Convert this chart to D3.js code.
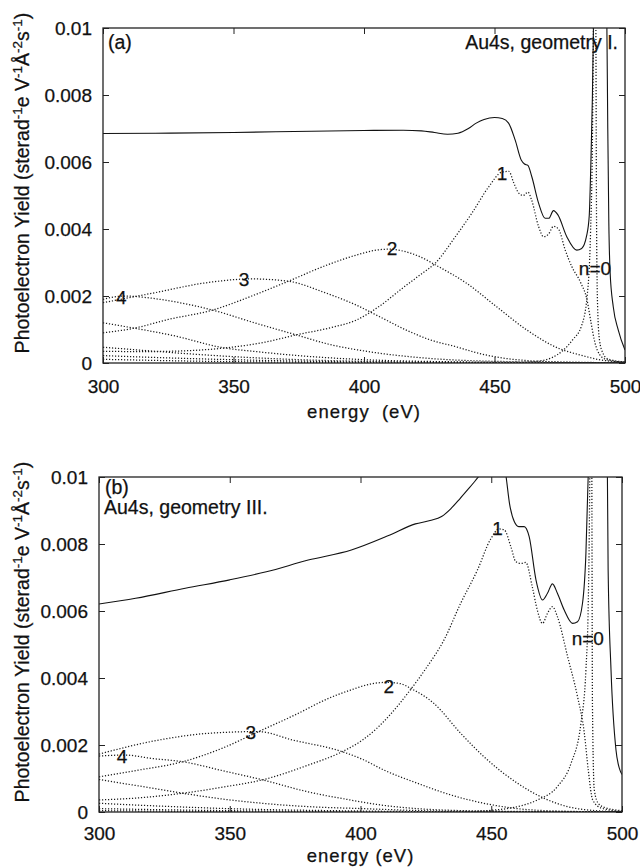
<!DOCTYPE html>
<html>
<head>
<meta charset="utf-8">
<script src="https://cdn.jsdelivr.net/npm/d3@7"></script>
<style>
body { margin: 0; background: #fff; }
svg { display: block; font-family: "Liberation Sans", Arial, Helvetica, sans-serif; }
svg text { stroke: #111; stroke-width: 0.25px; }
</style>
</head>
<body>
<div id="wrapper"></div>
<script>
const xTicks = [300, 350, 400, 450, 500];
const yTicks = [0, 0.002, 0.004, 0.006, 0.008, 0.01];

// ---- panel (a), geometry I : [energy eV, yield]
const totalA = [[300,0.00685],[320,0.00686],[350,0.00688],[380,0.00692],[400,0.00694],[415,0.00695],[422,0.00693],[427,0.00688],[432,0.00683],[436,0.00686],[440,0.00700],[443,0.00716],[446,0.00727],[450,0.00733],[453,0.00730],[455.4,0.00716],[457.9,0.00666],[460.3,0.00605],[461.5,0.00594],[462.8,0.00590],[464.3,0.00556],[466.9,0.00477],[469.4,0.00432],[470.8,0.00432],[472.6,0.00455],[474.3,0.00442],[477.7,0.00377],[481.5,0.00337],[483.4,0.00342],[485.3,0.00380],[486.3,0.00440],[486.9,0.00590],[487.5,0.00790],[488.0,0.01050],[489.5,0.01500],[491.5,0.01500],[493.0,0.01050],[493.4,0.00700],[493.8,0.00420],[494.3,0.00270],[495.5,0.00168],[497.4,0.00099],[500,0.00039]];
const n0A = [[440,0],[455,0.00001],[465,0.00004],[472,0.00016],[476,0.00036],[480,0.0007],[483.3,0.0011],[485.5,0.002],[486.8,0.0039],[487.5,0.0065],[488,0.011],[488.4,0.016],[488.8,0.011],[489.1,0.0042],[489.5,0.0017],[490.2,0.0007],[491.5,0.0003],[493.5,0.00012],[500,0.00003]];
const n1A = [[300,0.00035],[315,0.00034],[330,0.00036],[348,0.00046],[362,0.00062],[374,0.00084],[387,0.00105],[397,0.00128],[406,0.0017],[415,0.00225],[422,0.00266],[427.3,0.00298],[435,0.00377],[441.4,0.00448],[447.8,0.00526],[452.9,0.0057],[455.5,0.00572],[457.4,0.00537],[459.3,0.00507],[461,0.005],[462.8,0.0051],[464.2,0.00487],[466.9,0.00407],[468.8,0.00377],[470.7,0.00385],[472.6,0.00408],[474.5,0.004],[477.1,0.00337],[479.6,0.00288],[483,0.0024],[485.4,0.0019],[487,0.0012],[488.5,0.0006],[490.3,0.00025],[493,0.0001],[500,0.00002]];
const n2A = [[300,0.0009],[312,0.00104],[325,0.0013],[342,0.00158],[357,0.002],[371,0.00244],[385,0.0029],[397,0.00322],[404,0.00336],[410,0.0034],[415,0.00334],[421.5,0.00317],[428,0.0029],[439.3,0.00238],[450.8,0.00168],[462.3,0.00099],[474.5,0.00044],[482.8,0.00024],[490,0.0001],[500,0.00003]];
const n3A = [[300,0.0018],[320,0.0021],[340,0.0024],[357,0.00251],[371,0.00244],[385,0.0021],[397,0.00173],[406,0.00138],[416,0.00099],[425,0.0007],[435,0.00049],[445,0.00027],[454,0.00014],[465,0.00006],[480,0.00002],[500,0]];
const n4A = [[300,0.0019],[308,0.002],[320,0.00192],[332,0.00176],[342,0.00158],[358,0.0012],[374,0.00084],[387,0.00055],[400,0.00036],[420,0.00017],[450,0.00005],[500,0.00001]];
const n5A = [[300,0.0012],[312,0.00104],[328,0.0008],[345,0.00047],[360,0.00033],[375,0.00022],[400,0.0001],[440,0.00003],[500,0]];
const n6A = [[300,0.00047],[315,0.00038],[330,0.00029],[350,0.00019],[375,0.0001],[400,0.00005],[450,0.00001],[500,0]];
const n7A = [[300,0.00022],[330,0.00014],[360,0.00008],[400,0.00003],[450,0.00001],[500,0]];
const n8A = [[300,0.00011],[340,0.00005],[380,0.00002],[450,0],[500,0]];
const labelsA = [["1",452.9,0.00567],["2",410.7,0.00341],["3",354,0.00251],["4",307,0.00196],["n=0",488.5,0.00283]];

// ---- panel (b), geometry III
const totalB = [[300,0.00621],[314,0.00638],[333,0.00668],[350,0.00693],[364,0.00717],[380,0.00752],[396.5,0.00782],[411,0.00826],[421,0.0086],[426.6,0.0087],[431,0.00882],[434.5,0.00905],[438,0.00935],[441,0.00962],[443.5,0.00985],[446,0.0101],[450,0.0106],[454,0.0106],[455.5,0.0101],[457,0.0092],[458.8,0.00867],[460.5,0.00852],[462.6,0.00852],[464.5,0.00822],[467.1,0.00693],[469.6,0.00633],[471.5,0.00653],[473.4,0.00681],[475.3,0.00653],[477.9,0.00603],[481.1,0.00563],[483,0.00568],[484.9,0.00623],[486.2,0.00772],[487.1,0.0101],[488.5,0.015],[492.5,0.015],[494.4,0.0102],[494.7,0.00722],[495.8,0.00424],[497.7,0.00185],[499,0.0013],[500,0.00112]];
const n0B = [[440,0],[450,0.00005],[460,0.00016],[467.7,0.00036],[475.3,0.00076],[480.5,0.00145],[484.3,0.00265],[486.2,0.00424],[487.1,0.00623],[487.6,0.00921],[488,0.014],[488.3,0.016],[488.5,0.009],[488.7,0.0032],[489.4,0.00066],[491,0.00025],[493.2,0.00014],[500,0.00004]];
const n1B = [[300,0.00036],[315,0.00042],[332,0.00056],[348,0.00075],[362.5,0.00096],[380,0.0014],[393,0.0018],[400.8,0.00215],[406,0.00248],[411.5,0.00292],[419.2,0.00366],[425.5,0.00434],[431.9,0.00513],[438.3,0.00623],[444.7,0.00722],[449.8,0.00815],[453,0.00845],[455,0.00842],[457.5,0.00792],[459.4,0.00747],[461.5,0.00742],[463.2,0.00745],[465.7,0.00672],[467.6,0.00603],[469.6,0.00563],[471.5,0.00593],[473.4,0.00613],[475.3,0.00583],[479.2,0.00464],[483,0.00344],[485.6,0.00235],[487.1,0.00125],[488.8,0.00036],[492,0.00012],[500,0.00002]];
const n2B = [[300,0.00105],[315,0.00125],[332,0.0015],[347,0.0019],[361,0.0024],[375,0.0029],[388,0.0034],[396.2,0.00364],[403.8,0.00382],[410,0.00387],[415.3,0.00383],[419.2,0.00369],[428.1,0.00324],[438.3,0.00235],[447.2,0.00165],[460,0.00086],[470.2,0.00041],[479.2,0.00016],[490,0.00004],[500,0.00001]];
const n3B = [[300,0.00173],[323,0.00215],[342,0.00235],[361,0.0024],[374,0.00215],[393,0.0018],[400.8,0.00157],[409,0.00125],[421.7,0.00086],[434.5,0.00051],[447.2,0.00026],[460,0.0001],[475,0.00003],[500,0]];
const n4B = [[300,0.00167],[310,0.0017],[320,0.0016],[332,0.0015],[348,0.00122],[362.5,0.00096],[380,0.0006],[396,0.00036],[405,0.00024],[421.7,0.0001],[447,0.00003],[500,0]];
const n5B = [[300,0.00097],[315,0.00078],[332,0.00056],[348,0.00038],[362.5,0.00026],[380,0.00016],[401,0.0001],[430,0.00003],[500,0]];
const n6B = [[300,0.00026],[325,0.00017],[350,0.0001],[400,0.00003],[450,0],[500,0]];
const n7B = [[300,0.0001],[350,0.00004],[400,0.00001],[500,0]];
const n8B = [[300,0.00004],[350,0.00001],[400,0],[500,0]];
const labelsB = [["1",452.4,0.00847],["2",410.8,0.00374],["3",358,0.00239],["4",308.8,0.00165],["n=0",486.9,0.00519]];

const svg = d3.select("#wrapper").append("svg")
    .attr("width", 640)
    .attr("height", 867);

const yFormat = d => d === 0 ? "0" : String(+d.toFixed(3));

function drawPanel(p) {
    const x = d3.scaleLinear().domain([300, 500]).range([p.left, p.right]);
    const y = d3.scaleLinear().domain([0, 0.01]).range([p.bottom, p.top]);

    svg.append("clipPath").attr("id", p.id)
        .append("rect")
        .attr("x", p.left).attr("y", p.top)
        .attr("width", p.right - p.left).attr("height", p.bottom - p.top);

    const line = d3.line()
        .x(d => x(d[0]))
        .y(d => y(d[1]))
        .curve(d3.curveMonotoneX);

    const g = svg.append("g").attr("clip-path", `url(#${p.id})`);
    p.parts.forEach(c => {
        g.append("path")
            .attr("d", line(c))
            .attr("fill", "none")
            .attr("stroke", "#1a1a1a")
            .attr("stroke-width", 1.25)
            .attr("stroke-dasharray", "1.2 1.8");
    });
    g.append("path")
        .attr("d", line(p.total))
        .attr("fill", "none")
        .attr("stroke", "#111")
        .attr("stroke-width", 1.1);

    // axes, ticks point inward
    const axes = [
        [d3.axisLeft(y).tickValues(yTicks).tickFormat(yFormat).tickPadding(11), p.left, 0],
        [d3.axisRight(y).tickValues(yTicks).tickFormat(""), p.right, 0],
        [d3.axisBottom(x).tickValues(xTicks).tickFormat(d3.format("d")).tickPadding(p.tickPad), 0, p.bottom],
        [d3.axisTop(x).tickValues(xTicks).tickFormat(""), 0, p.top]
    ];
    axes.forEach(([ax, tx, ty]) => {
        const a = svg.append("g")
            .attr("transform", `translate(${tx},${ty})`)
            .call(ax.tickSizeInner(-6).tickSizeOuter(0));
        a.select(".domain").remove();
        a.selectAll("line").attr("stroke", "#222");
        a.attr("font-size", 19).attr("font-family", null);
        a.selectAll("text").attr("fill", "#111");
    });

    svg.append("rect")
        .attr("x", p.left).attr("y", p.top)
        .attr("width", p.right - p.left).attr("height", p.bottom - p.top)
        .attr("fill", "none")
        .attr("stroke", "#222")
        .attr("stroke-width", 1.3);

    // curve labels
    p.labels.forEach(([t, e, v]) => {
        svg.append("text")
            .attr("x", x(e)).attr("y", y(v))
            .attr("dy", "0.35em")
            .attr("text-anchor", "middle")
            .attr("font-size", 19)
            .attr("fill", "#111")
            .text(t);
    });

    // panel tags
    p.notes.forEach(n => {
        svg.append("text")
            .attr("x", n.right ? p.right - n.dx : p.left + n.dx)
            .attr("y", p.top + n.dy)
            .attr("dy", "0.35em")
            .attr("text-anchor", n.right ? "end" : "start")
            .attr("font-size", 19.5)
            .attr("fill", "#111")
            .text(n.text);
    });

    // x title
    svg.append("text")
        .attr("x", (p.left + p.right) / 2)
        .attr("y", p.bottom + p.titleGap)
        .attr("dy", "0.35em")
        .attr("text-anchor", "middle")
        .attr("font-size", 18.5)
        .attr("letter-spacing", 1)
        .attr("fill", "#111")
        .style("white-space", "pre")
        .text(p.xTitle);

    // y title with superscripts
    const yt = svg.append("text")
        .attr("transform", `translate(29,${p.top + 155}) rotate(-90)`)
        .attr("text-anchor", "middle")
        .attr("font-size", 19.5)
        .attr("fill", "#111");
    const pieces = [["Photoelectron Yield (sterad", 0], ["-1", 1], ["e V", 0], ["-1", 1], ["Å", 0], ["-2", 1], ["s", 0], ["-1", 1], [")", 0]];
    let up = false;
    pieces.forEach(([s, sup]) => {
        const ts = yt.append("tspan").text(s);
        if (sup && !up) { ts.attr("dy", -7.5).attr("font-size", 13.5); up = true; }
        else if (sup) { ts.attr("font-size", 13.5); }
        else if (up) { ts.attr("dy", 7.5); up = false; }
    });
}

drawPanel({
    id: "clipA", left: 103, right: 625, top: 28, bottom: 363,
    total: totalA, parts: [n0A, n1A, n2A, n3A, n4A, n5A, n6A, n7A, n8A],
    labels: labelsA,
    notes: [{text: "(a)", dx: 5, dy: 14}, {text: "Au4s, geometry I.", dx: 7, dy: 14, right: true}],
    xTitle: "energy  (eV)", titleGap: 49, tickPad: 17
});

drawPanel({
    id: "clipB", left: 99, right: 622, top: 477, bottom: 812,
    total: totalB, parts: [n0B, n1B, n2B, n3B, n4B, n5B, n6B, n7B, n8B],
    labels: labelsB,
    notes: [{text: "(b)", dx: 6, dy: 10}, {text: "Au4s, geometry III.", dx: 5, dy: 30}],
    xTitle: "energy (eV)", titleGap: 44, tickPad: 15
});
</script>
</body>
</html>
